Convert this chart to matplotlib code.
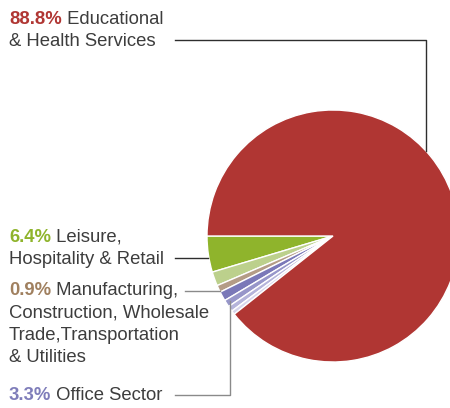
import matplotlib
matplotlib.use("Agg")
import matplotlib.pyplot as plt

# employment shares by sector (%)
sectors = ["Educational & Health Services", "Leisure, Hospitality & Retail",
           "Manufacturing, Construction, Wholesale Trade, Transportation & Utilities",
           "Office Sector"]
shares = [88.8, 6.4, 0.9, 3.3]
share_labels = ["88.8%", "6.4%", "0.9%", "3.3%"]

# shaded bands inside the small wedges
leisure_bands = [4.6, 1.8]
manufacturing_bands = [0.9]
office_bands = [1.2, 0.9, 0.7, 0.5]

RED = "#b03633"
GREEN = "#8fb42c"
BROWN = "#a0805f"
PURPLE = "#7f7dba"
TEXT = "#3d3d3d"

band_colors = ["#8fb42c", "#bcd08c",
               "#b49c86",
               "#7a78b8", "#9796c9", "#b5b4da", "#d6d5ec",
               RED]
band_values = leisure_bands + manufacturing_bands + office_bands + [shares[0]]

fig = plt.figure(figsize=(4.5, 4.08), dpi=100)
ax = fig.add_axes([0, 0, 1, 1])

ax.pie(band_values, colors=band_colors, startangle=180, counterclock=False,
       center=(333, 236), radius=126,
       wedgeprops=dict(edgecolor="white", linewidth=1.0))
ax.set_xlim(0, 450)
ax.set_ylim(408, 0)
ax.set_aspect("equal")
ax.axis("off")

# leader lines
ax.plot([175, 426, 426], [40, 40, 151], color="#2e2e2e", lw=1.0)
ax.plot([175, 208], [258, 258], color="#2e2e2e", lw=1.0)
ax.plot([185, 220], [291, 291], color="#8a8a8a", lw=1.0)
ax.plot([175, 230, 230], [395, 395, 301], color="#8a8a8a", lw=1.0)

font = dict(family=["Liberation Sans", "DejaVu Sans"], size=13.3)
fig.canvas.draw()
renderer = fig.canvas.get_renderer()


def label(y, pct, color, first, rest):
    t = ax.text(9, y, pct, color=color, fontweight="bold", va="baseline", **font)
    bb = t.get_window_extent(renderer)
    x0 = ax.transData.inverted().transform((bb.x1, bb.y0))[0]
    ax.text(x0, y, " " + first, color=TEXT, va="baseline", **font)
    for i, line in enumerate(rest):
        ax.text(9, y + 22.5 * (i + 1), line, color=TEXT, va="baseline", **font)


label(24, share_labels[0], RED, "Educational", ["& Health Services"])
label(242, share_labels[1], GREEN, "Leisure,", ["Hospitality & Retail"])
label(295, share_labels[2], BROWN, "Manufacturing,",
      ["Construction, Wholesale", "Trade,Transportation", "& Utilities"])
label(400, share_labels[3], PURPLE, "Office Sector", [])

fig.savefig("out.png", dpi=100)
